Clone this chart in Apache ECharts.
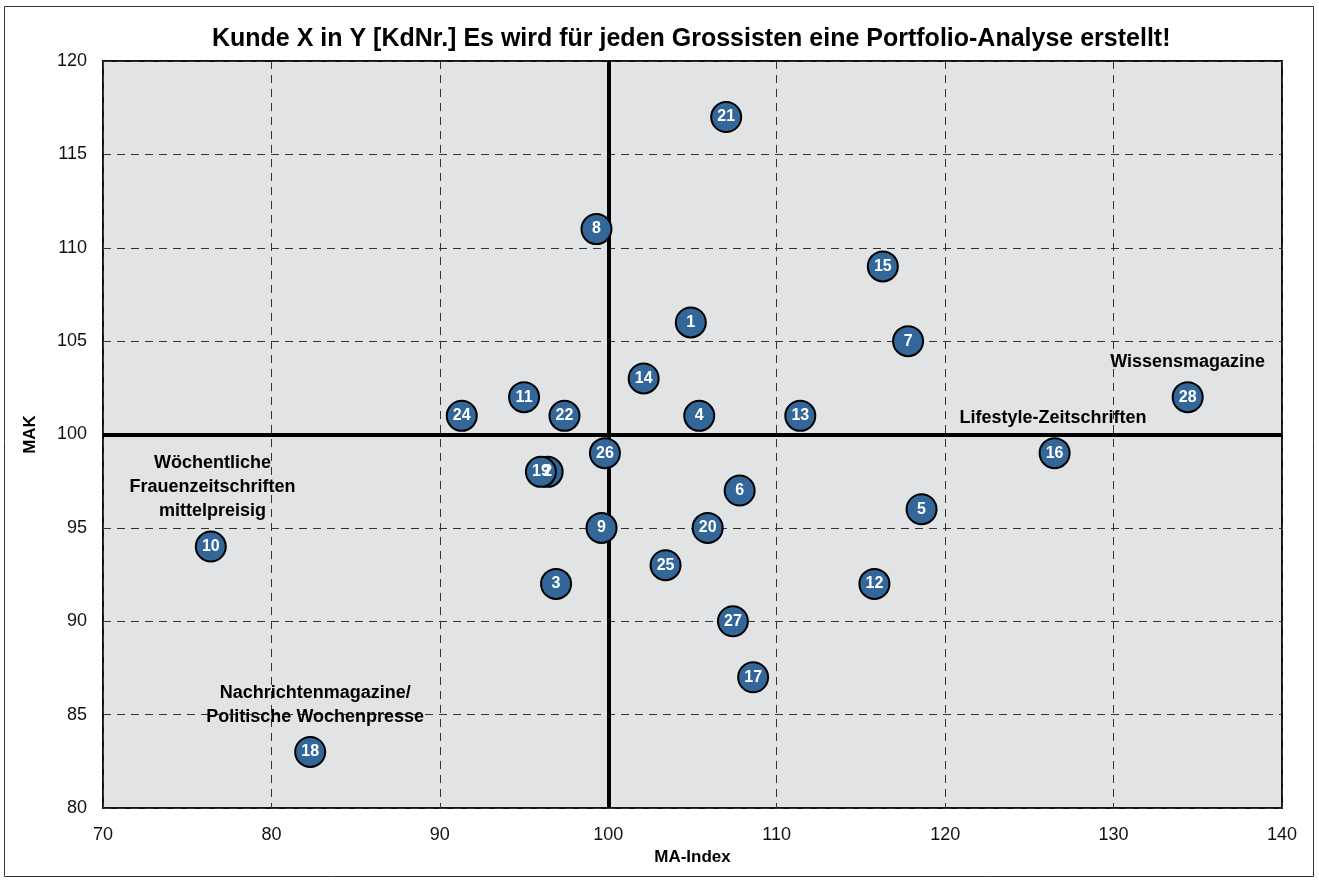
<!DOCTYPE html>
<html>
<head>
<meta charset="utf-8">
<title>Portfolio-Analyse</title>
<script src="https://cdn.jsdelivr.net/npm/echarts@6/dist/echarts.min.js"></script>
<style>
  html, body { margin: 0; padding: 0; background: #fff; }
  #chart { width: 1319px; height: 884px; }
</style>
</head>
<body>
<div id="chart"></div>
<script>
// Kundennummern und Werte (MA-Index / MAK)
const ids = [1, 2, 3, 4, 5, 6, 7, 8, 9, 10, 11, 12, 13, 14, 15, 16, 17, 18, 19, 20, 21, 22, 24, 25, 26, 27, 28];
const maIndex = [104.9, 96.4, 96.9, 105.4, 118.6, 107.8, 117.8, 99.3, 99.6, 76.4, 95.0, 115.8, 111.4, 102.1, 116.3, 126.5, 108.6, 82.3, 96.0, 105.9, 107.0, 97.4, 91.3, 103.4, 99.8, 107.4, 134.4];
const mak = [106, 98, 92, 101, 96, 97, 105, 111, 95, 94, 102, 92, 101, 103, 109, 99, 87, 83, 98, 95, 117, 101, 101, 93, 99, 90, 102];

// Gruppen-Beschriftungen
const groupNames = ['Wissensmagazine', 'Lifestyle-Zeitschriften', 'Wöchentliche\nFrauenzeitschriften\nmittelpreisig', 'Nachrichtenmagazine/\nPolitische Wochenpresse'];
const groupX = [134.4, 126.4, 76.5, 82.6];
const groupY = [103.9, 100.9, 97.2, 85.5];

const xTicks = [70, 80, 90, 100, 110, 120, 130, 140];
const yTicks = [80, 85, 90, 95, 100, 105, 110, 115, 120];

const points = ids.map((id, i) => ({ name: String(id), value: [maIndex[i], mak[i]] }));
const groups = groupNames.map((n, i) => ({ name: n, value: [groupX[i], groupY[i]] }));

const chart = echarts.init(document.getElementById('chart'), null, { renderer: 'canvas' });

const font = 'Liberation Sans, Arial, sans-serif';

const option = {
  animation: false,
  backgroundColor: '#fff',
  textStyle: { fontFamily: font },
  title: {
    text: 'Kunde X in Y [KdNr.] Es wird für jeden Grossisten eine Portfolio-Analyse erstellt!',
    left: 207,
    top: 22,
    textStyle: { fontSize: 25, fontWeight: 'bold', color: '#000', fontFamily: font }
  },
  graphic: [{
    type: 'rect',
    shape: { x: 4.5, y: 6.5, width: 1309, height: 870 },
    style: { fill: 'none', stroke: '#333', lineWidth: 1 },
    silent: true
  }],
  grid: {
    left: 103, top: 61, width: 1179, height: 747,
    show: true,
    backgroundColor: '#e2e3e5',
    borderColor: '#111',
    borderWidth: 2
  },
  xAxis: {
    type: 'value',
    min: xTicks[0], max: xTicks[xTicks.length - 1], interval: 10,
    name: 'MA-Index',
    nameLocation: 'middle',
    nameGap: 36,
    nameTextStyle: { fontSize: 17, fontWeight: 'bold', color: '#000' },
    axisLine: { show: false },
    axisTick: { show: false },
    axisLabel: { fontSize: 18, color: '#111', margin: 18 },
    splitLine: { show: true, lineStyle: { color: '#333', type: [8, 6], width: 1 } }
  },
  yAxis: {
    type: 'value',
    min: yTicks[0], max: yTicks[yTicks.length - 1], interval: 5,
    name: 'MAK',
    nameLocation: 'middle',
    nameGap: 64,
    nameRotate: 90,
    nameTextStyle: { fontSize: 17, fontWeight: 'bold', color: '#000' },
    axisLine: { show: false },
    axisTick: { show: false },
    axisLabel: { fontSize: 18, color: '#111', margin: 16 },
    splitLine: { show: true, lineStyle: { color: '#333', type: [8, 6], width: 1 } }
  },
  series: [
    {
      type: 'scatter',
      data: points,
      symbol: 'circle',
      symbolSize: 30,
      itemStyle: { color: '#336699', borderColor: '#000', borderWidth: 2, opacity: 1 },
      label: {
        show: true,
        position: 'inside',
        formatter: '{b}',
        color: '#fff',
        fontSize: 16,
        fontWeight: 'bold'
      },
      markLine: {
        silent: true,
        symbol: 'none',
        label: { show: false },
        lineStyle: { color: '#000', width: 4, type: 'solid' },
        data: [{ xAxis: 100 }, { yAxis: 100 }]
      },
      z: 5
    },
    {
      type: 'scatter',
      data: groups,
      symbolSize: 0,
      silent: true,
      itemStyle: { opacity: 1 },
      label: {
        show: true,
        position: 'inside',
        formatter: '{b}',
        color: '#000',
        opacity: 1,
        fontSize: 18,
        fontWeight: 'bold',
        align: 'center',
        lineHeight: 24
      },
      z: 4
    }
  ]
};

chart.setOption(option);
</script>
</body>
</html>
